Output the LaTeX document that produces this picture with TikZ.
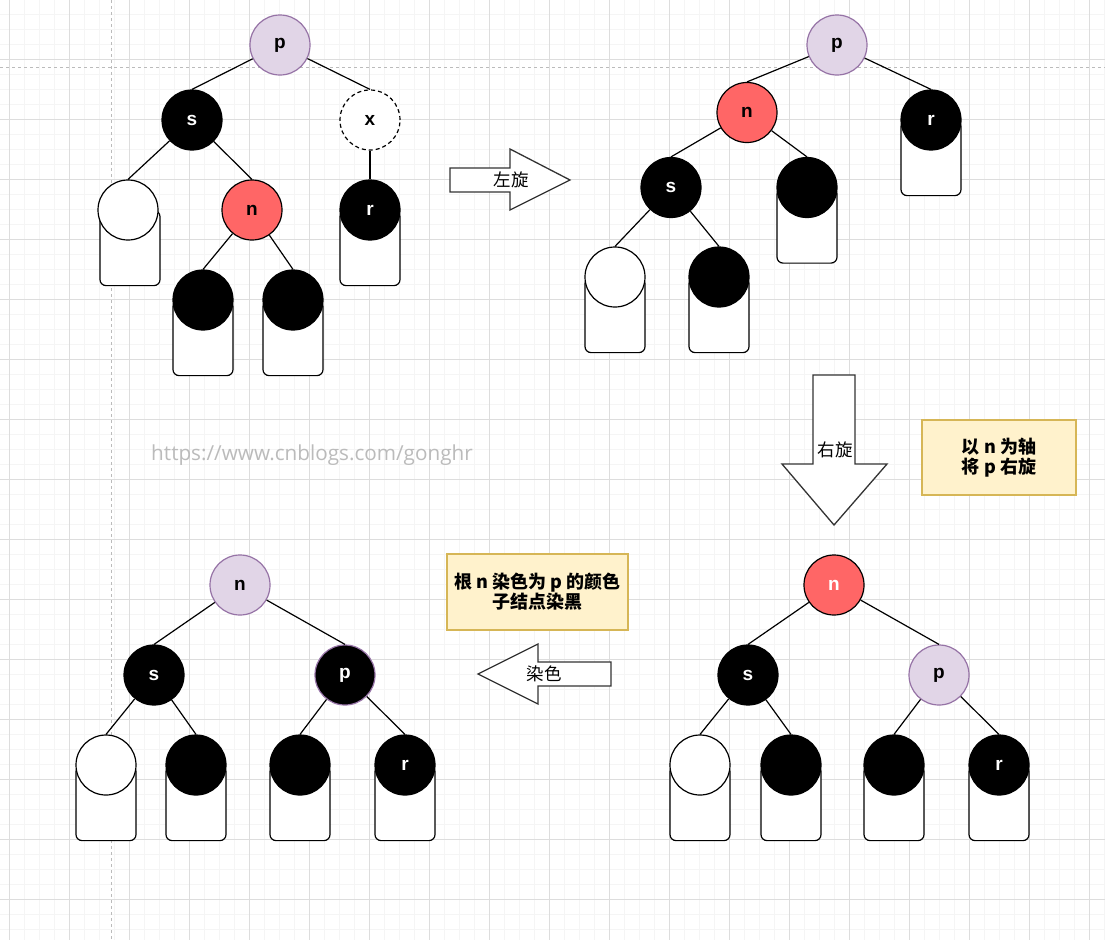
\documentclass[tikz,border=0pt]{standalone}
\usepackage{fontspec}
\setsansfont{Liberation Sans}
\newfontfamily\cjk{Noto Sans CJK SC}
\newfontfamily\wmfont{Open Sans}
\definecolor{lilacfill}{HTML}{E1D5E7}
\definecolor{lilacline}{HTML}{9673A6}
\definecolor{rednode}{HTML}{FF6666}
\definecolor{notefill}{HTML}{FFF2CC}
\definecolor{noteline}{HTML}{D6B656}
\definecolor{gridminor}{HTML}{F5F5F5}
\definecolor{gridmajor}{HTML}{DDDDDD}
\definecolor{guide}{HTML}{BBBBBB}
\definecolor{arrowline}{HTML}{333333}
\definecolor{wmgrey}{HTML}{BBBBBB}
\tikzset{
  rb/.style={circle, minimum size=60pt, inner sep=0pt, line width=1.2pt,
    font=\sffamily\bfseries\fontsize{19}{19}\selectfont},
  blk/.style={rb, draw=black, fill=black, text=white},
  wht/.style={rb, draw=black, fill=white},
  rednd/.style={rb, draw=black, fill=rednode, text=black},
  lil/.style={rb, draw=lilacline, fill=lilacfill, text=black},
  nilnd/.style={rb, draw=black, fill=white, dashed, dash pattern=on 4pt off 3pt},
  leafbox/.style={draw=black, fill=white, rounded corners=6pt, line width=1.2pt,
    minimum width=60pt, minimum height=75pt, inner sep=0pt, anchor=north},
  edge/.style={draw=black, line width=1.2pt},
  blockarrow/.style={draw=arrowline, fill=white, line width=1.3pt},
  arrowlabel/.style={font=\cjk\fontsize{17.5}{17.5}\selectfont, inner sep=0pt},
  note/.style={draw=noteline, fill=notefill, line width=1.3pt, align=center,
    font=\cjk\bfseries\fontsize{18}{20}\selectfont, inner sep=0pt}
}
\begin{document}
\begin{tikzpicture}[x=1pt,y=-1pt]
\useasboundingbox (0,0) rectangle (1105,940);
% background grid
\fill[white] (0,0) rectangle (1105,940);
\foreach \gx in {9,24,...,1104} \draw[gridminor, line width=0.8pt] (\gx,0) -- (\gx,940);
\foreach \gy in {14,29,...,939} \draw[gridminor, line width=0.8pt] (0,\gy) -- (1105,\gy);
\foreach \gx in {9,69,...,1104} \draw[gridmajor, line width=0.9pt] (\gx,0) -- (\gx,940);
\foreach \gy in {59,119,...,939} \draw[gridmajor, line width=0.9pt] (0,\gy) -- (1105,\gy);
\draw[guide, line width=0.9pt, dash pattern=on 3pt off 3pt] (0,67) -- (1105,67);
\draw[guide, line width=0.9pt, dash pattern=on 3pt off 3pt] (111,0) -- (111,940);

% watermark
\node[font=\wmfont\fontsize{20.7}{20.7}\selectfont, text=wmgrey, inner sep=0pt] (wm) at (312,455) {https://www.cnblogs.com/gonghr};

% ===== top-left tree =====
\node[lil] (p1) at (280,45) {p};
\node[blk] (s1) at (192,120) {s};
\node[nilnd] (x1) at (370,120) {x};
\node[leafbox] (w1box) at (130,210) {};
\node[wht] (w1) at (128,210) {};
\node[rednd] (n1) at (252,210) {n};
\node[leafbox] (r1box) at (370,210) {};
\node[blk] (r1) at (370,210) {r};
\node[leafbox] (b1box) at (203,300) {};
\node[blk] (b1) at (203,300) {};
\node[leafbox] (b2box) at (293,300) {};
\node[blk] (b2) at (293,300) {};
\draw[edge] (p1) -- (s1.north);
\draw[edge] (p1) -- (x1.north);
\draw[edge] (s1) -- (w1.north);
\draw[edge] (s1) -- (n1.north);
\draw[edge] (n1) -- (b1.north);
\draw[edge] (n1) -- (b2.north);
\draw[edge] (x1) -- (r1.north);

% ===== top-right tree =====
\node[lil] (p2) at (837,45) {p};
\node[rednd] (n2) at (747,112.5) {n};
\node[leafbox] (r2box) at (931,120) {};
\node[blk] (r2) at (931,120) {r};
\node[blk] (s2) at (671,187.5) {s};
\node[leafbox] (b3box) at (807,187.5) {};
\node[blk] (b3) at (807,187.5) {};
\node[leafbox] (w2box) at (615,277) {};
\node[wht] (w2) at (615,277) {};
\node[leafbox] (b4box) at (719,277) {};
\node[blk] (b4) at (719,277) {};
\draw[edge] (p2) -- (n2.north);
\draw[edge] (p2) -- (r2.north);
\draw[edge] (n2) -- (s2.north);
\draw[edge] (n2) -- (b3.north);
\draw[edge] (s2) -- (w2.north);
\draw[edge] (s2) -- (b4.north);

% ===== bottom-right tree =====
\node[rednd, text=white] (n3) at (834,585) {n};
\node[blk] (s3) at (748,675) {s};
\node[lil] (p3) at (939,675) {p};
\node[leafbox] (w3box) at (700,765) {};
\node[wht] (w3) at (700,765) {};
\node[leafbox] (b5box) at (791,765) {};
\node[blk] (b5) at (791,765) {};
\node[leafbox] (b6box) at (894,765) {};
\node[blk] (b6) at (894,765) {};
\node[leafbox] (r3box) at (999,765) {};
\node[blk] (r3) at (999,765) {r};
\draw[edge] (n3) -- (s3.north);
\draw[edge] (n3) -- (p3.north);
\draw[edge] (s3) -- (w3.north);
\draw[edge] (s3) -- (b5.north);
\draw[edge] (p3) -- (b6.north);
\draw[edge] (p3) -- (r3.north);

% ===== bottom-left tree =====
\node[lil] (n4) at (240,585) {n};
\node[blk] (s4) at (154,675) {s};
\node[blk, draw=lilacline] (p4) at (345,675) {p};
\node[leafbox] (w4box) at (106,765) {};
\node[wht] (w4) at (106,765) {};
\node[leafbox] (b7box) at (196,765) {};
\node[blk] (b7) at (196,765) {};
\node[leafbox] (b8box) at (300,765) {};
\node[blk] (b8) at (300,765) {};
\node[leafbox] (r4box) at (405,765) {};
\node[blk] (r4) at (405,765) {r};
\draw[edge] (n4) -- (s4.north);
\draw[edge] (n4) -- (p4.north);
\draw[edge] (s4) -- (w4.north);
\draw[edge] (s4) -- (b7.north);
\draw[edge] (p4) -- (b8.north);
\draw[edge] (p4) -- (r4.north);

% ===== block arrows =====
\draw[blockarrow] (450,168) -- (510,168) -- (510,149) -- (570,180) -- (510,210) -- (510,192) -- (450,192) -- cycle;
\node[arrowlabel] (lrot) at (511,180) {左旋};
\draw[blockarrow] (813,375) -- (855,375) -- (855,464) -- (887,464) -- (834,525) -- (782,464) -- (813,464) -- cycle;
\node[arrowlabel] (rrot) at (835,450) {右旋};
\draw[blockarrow] (611,662) -- (538,662) -- (538,644) -- (478,674) -- (538,704) -- (538,686) -- (611,686) -- cycle;
\node[arrowlabel] (color) at (544,674) {染色};

% ===== notes =====
\node[note, minimum width=154pt, minimum height=75pt] (note1) at (999,457.5) {以 n 为轴\\将 p 右旋};
\node[note, minimum width=181pt, minimum height=76pt] (note2) at (537.5,592) {根 n 染色为 p 的颜色\\子结点染黑};
\end{tikzpicture}
\end{document}
